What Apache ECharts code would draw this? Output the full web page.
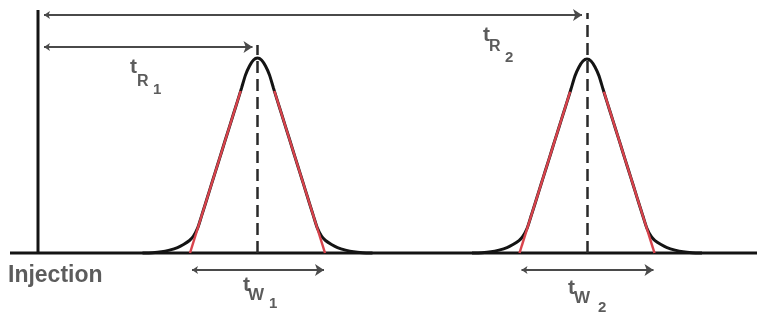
<!DOCTYPE html>
<html><head><meta charset="utf-8">
<script src="https://cdn.jsdelivr.net/npm/echarts@6/dist/echarts.min.js"></script>
<style>html,body{margin:0;padding:0;background:#fff}#c{width:757px;height:313px}</style>
</head><body><div id="c"></div>
<script>
// ---- data ----
const injectionTime = 38;
const retentionTimes = [257.5, 587];
const peakHeights = [195, 194];
const peakBaseWidths = [135, 135];          // tangent intercepts on the baseline
const tangentApexHeights = [216, 215];      // where the two tangents of a peak would meet
const profileOffsets = [0,4,8,12,16,20,24,28,32,36,40,44,48,52,56,60,64,68,74,80,88,96,105,115];
const profileShape   = [1,0.990,0.959,0.913,0.845,0.779,0.714,0.648,0.583,0.517,0.451,0.386,0.320,0.254,0.189,0.126,0.087,0.064,0.044,0.028,0.015,0.006,0.0015,0];
const peakSubscripts = ['1', '2'];
const injectionLabel = 'Injection';

// ---- layout (not data) ----
const timeRange = [0, 757];
const signalRange = [-60, 253];
const baselineStart = 10;
const injectionTop = 243;
const retentionArrowLevels = [206, 238];
const dashTops = [208, 240];
const widthArrowLevel = -17;
const tangentReach = 0.75;
const labelAnchors = {
  tR: [[130, 186, 137, 171, 153, 163], [483, 218, 489, 206, 505, 195]],
  tW: [[243, -32, 248, -42, 269, -51], [568, -35, 574, -45, 598, -55]]
};

const BLACK = '#141414', RED = '#d8434c', GREY = '#4a4a4a', TEXT = '#333333';

const series = [];
series.push({type:'line', data:[[baselineStart,0],[timeRange[1],0]], symbol:'none', lineStyle:{color:BLACK,width:3}, z:3, silent:true});
series.push({type:'line', data:[[injectionTime,0],[injectionTime,injectionTop]], symbol:'none', lineStyle:{color:BLACK,width:3}, z:3, silent:true});

const tangentSegs = [], dashSegs = [], arrowSegs = [];
retentionTimes.forEach((tR, i) => {
  const H = peakHeights[i], half = peakBaseWidths[i] / 2;
  const left = profileOffsets.slice(1).reverse().map((d, k) => [tR - d, H * profileShape[profileShape.length - 1 - k]]);
  const right = profileOffsets.map((d, k) => [tR + d, H * profileShape[k]]);
  series.push({
    type:'line', smooth:0.25, symbol:'none',
    data: left.concat(right),
    lineStyle:{color:BLACK, width:3}, z:4, silent:true
  });
  const apexH = tangentApexHeights[i];
  [-1, 1].forEach(s => {
    const bx = tR + s * half;
    tangentSegs.push({coords:[[bx, 0], [bx + (tR - bx) * tangentReach, apexH * tangentReach]]});
  });
  dashSegs.push({coords:[[tR, 0], [tR, dashTops[i]]]});
  arrowSegs.push({coords:[[injectionTime + 6, retentionArrowLevels[i]], [tR - 5, retentionArrowLevels[i]]]});
  arrowSegs.push({coords:[[tR - half + 2, widthArrowLevel], [tR + half - 1, widthArrowLevel]]});
});

series.push({type:'lines', coordinateSystem:'cartesian2d', data:tangentSegs, lineStyle:{color:RED, width:2.5, opacity:1}, symbol:'none', z:5, silent:true});
series.push({type:'lines', coordinateSystem:'cartesian2d', data:dashSegs, lineStyle:{color:'#2a2a2a', width:2.5, type:[12,6], opacity:1}, symbol:'none', z:6, silent:true});
series.push({type:'lines', coordinateSystem:'cartesian2d', data:arrowSegs, lineStyle:{color:GREY, width:2, opacity:1}, symbol:['arrow','arrow'], symbolSize:[6,9], z:6, silent:true});

const labelData = [];
function glyph(x, y, text, size) {
  labelData.push({value:[x, y], label:{formatter:text, fontSize:size}});
}
labelAnchors.tR.forEach((a, i) => {
  glyph(a[0], a[1], 't', 21); glyph(a[2], a[3], 'R', 16); glyph(a[4], a[5], peakSubscripts[i], 15);
});
labelAnchors.tW.forEach((a, i) => {
  glyph(a[0], a[1], 't', 21); glyph(a[2], a[3], 'W', 17); glyph(a[4], a[5], peakSubscripts[i], 15);
});
labelData.push({value:[8, -23], label:{formatter:injectionLabel, fontSize:23}});

series.push({
  type:'scatter', symbolSize:0, data:labelData, z:7, silent:true,
  label:{show:true, position:[0,0], align:'left', verticalAlign:'middle', color:TEXT, fontWeight:'bold', fontFamily:'Liberation Sans, Arial, sans-serif'}
});

const chart = echarts.init(document.getElementById('c'));
chart.setOption({
  animation:false,
  backgroundColor:'#ffffff',
  grid:{left:0, right:0, top:0, bottom:0},
  xAxis:{type:'value', min:timeRange[0], max:timeRange[1], show:false},
  yAxis:{type:'value', min:signalRange[0], max:signalRange[1], show:false},
  series
});
</script></body></html>
